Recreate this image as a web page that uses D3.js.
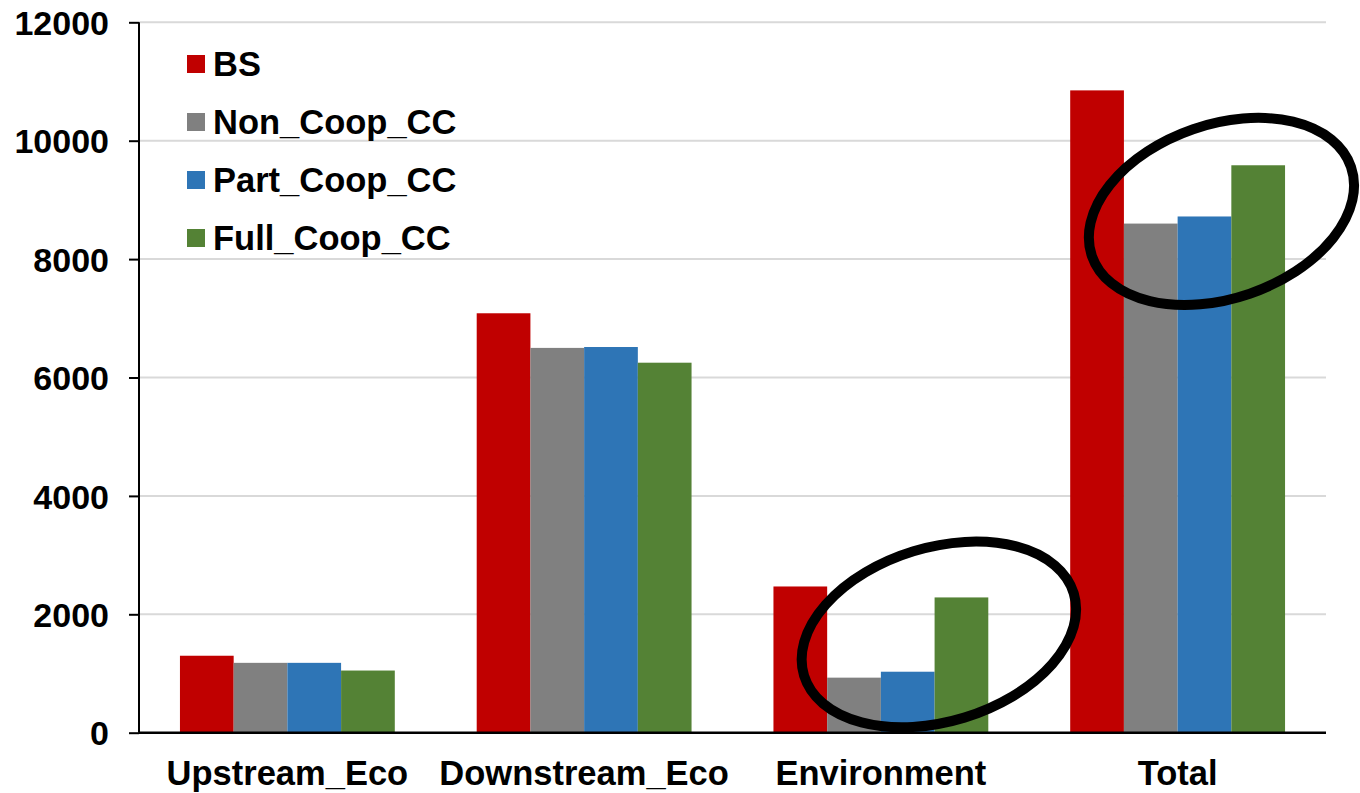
<!DOCTYPE html>
<html>
<head>
<meta charset="utf-8">
<script src="https://cdn.jsdelivr.net/npm/d3@7"></script>
<style>
  html, body { margin: 0; padding: 0; background: #fff; }
  svg { display: block; }
  text { font-family: "Liberation Sans", Arial, sans-serif; font-weight: bold; fill: #000; }
</style>
</head>
<body>
<svg id="chart" width="1360" height="793"></svg>
<script>
// ---- data ----
const categories = ["Upstream_Eco", "Downstream_Eco", "Environment", "Total"];
const seriesNames = ["BS", "Non_Coop_CC", "Part_Coop_CC", "Full_Coop_CC"];
const BS = [1300, 7085, 2470, 10850];
const Non_Coop_CC = [1180, 6500, 930, 8600];
const Part_Coop_CC = [1180, 6515, 1030, 8720];
const Full_Coop_CC = [1050, 6250, 2285, 9585];
const yTicks = [0, 2000, 4000, 6000, 8000, 10000, 12000];
// annotation ellipses: category, value at centre
const ellipseCats = ["Environment", "Total"];
const ellipseVals = [1660, 8805];

const colors = ["#c00000", "#808080", "#2e75b6", "#548235"];
const seriesValues = [BS, Non_Coop_CC, Part_Coop_CC, Full_Coop_CC];

const svg = d3.select("#chart");
const mLeft = 139, mRight = 1326, mTop = 22.3, mBottom = 732.7;

const x0 = d3.scaleBand().domain(categories).range([mLeft, mRight])
  .paddingInner(0.276).paddingOuter(0.138);
const x1 = d3.scaleBand().domain(seriesNames).range([0, x0.bandwidth()]).padding(0);
const y = d3.scaleLinear().domain([0, 12000]).range([mBottom, mTop]);

// gridlines
svg.append("g").selectAll("line").data(yTicks.filter(d => d > 0)).join("line")
  .attr("x1", mLeft).attr("x2", mRight)
  .attr("y1", d => y(d)).attr("y2", d => y(d))
  .attr("stroke", "#d9d9d9").attr("stroke-width", 2);

// bars
const rows = categories.map((c, i) => ({cat: c, vals: seriesNames.map((s, j) => ({s, v: seriesValues[j][i], j}))}));
svg.append("g").selectAll("g").data(rows).join("g")
  .attr("transform", d => `translate(${x0(d.cat)},0)`)
  .selectAll("rect").data(d => d.vals).join("rect")
  .attr("x", d => x1(d.s)).attr("width", x1.bandwidth())
  .attr("y", d => y(d.v)).attr("height", d => y(0) - y(d.v))
  .attr("fill", d => colors[d.j]);

// y axis
const yAxis = d3.axisLeft(y).tickValues(yTicks).tickSize(10).tickPadding(20).tickFormat(d3.format("d"));
const ga = svg.append("g").attr("transform", `translate(${mLeft},0)`).call(yAxis);
ga.select(".domain").attr("stroke", "#000").attr("stroke-width", 2).attr("d", `M0,${mTop}V${mBottom}`);
ga.selectAll(".tick line").attr("stroke", "#000").attr("stroke-width", 2);
ga.selectAll(".tick text").attr("font-size", 34).attr("font-family", "Liberation Sans, Arial, sans-serif")
  .attr("font-weight", "bold").attr("fill", "#000").attr("dy", "0.36em");

// x axis baseline
svg.append("line").attr("x1", mLeft).attr("x2", mRight).attr("y1", y(0)).attr("y2", y(0))
  .attr("stroke", "#000").attr("stroke-width", 2.5);

// category labels
svg.append("g").selectAll("text").data(categories).join("text")
  .attr("x", d => x0(d) + x0.bandwidth() / 2).attr("y", 785)
  .attr("text-anchor", "middle").attr("font-size", 34.5).text(d => d);

// legend
const lg = svg.append("g").selectAll("g").data(seriesNames).join("g")
  .attr("transform", (d, i) => `translate(187,${55 + i * 58})`);
lg.append("rect").attr("width", 18).attr("height", 18).attr("fill", (d, i) => colors[i]);
lg.append("text").attr("x", 26).attr("y", 9).attr("dy", "0.36em").attr("font-size", 34.5).text(d => d);

// annotation ellipses
const ellipseShapes = [{dx: 0.27, rx: 141, ry: 87, rot: -17}, {dx: 0.204, rx: 137, ry: 87, rot: -19}];
svg.append("g").selectAll("ellipse").data(ellipseCats).join("ellipse")
  .attr("transform", (d, i) => {
    const cx = x0(d) + x0.bandwidth() / 2 + ellipseShapes[i].dx * x0.bandwidth();
    const cy = y(ellipseVals[i]);
    return `translate(${cx},${cy}) rotate(${ellipseShapes[i].rot})`;
  })
  .attr("rx", (d, i) => ellipseShapes[i].rx).attr("ry", (d, i) => ellipseShapes[i].ry)
  .attr("fill", "none").attr("stroke", "#000").attr("stroke-width", 10);
</script>
</body>
</html>
